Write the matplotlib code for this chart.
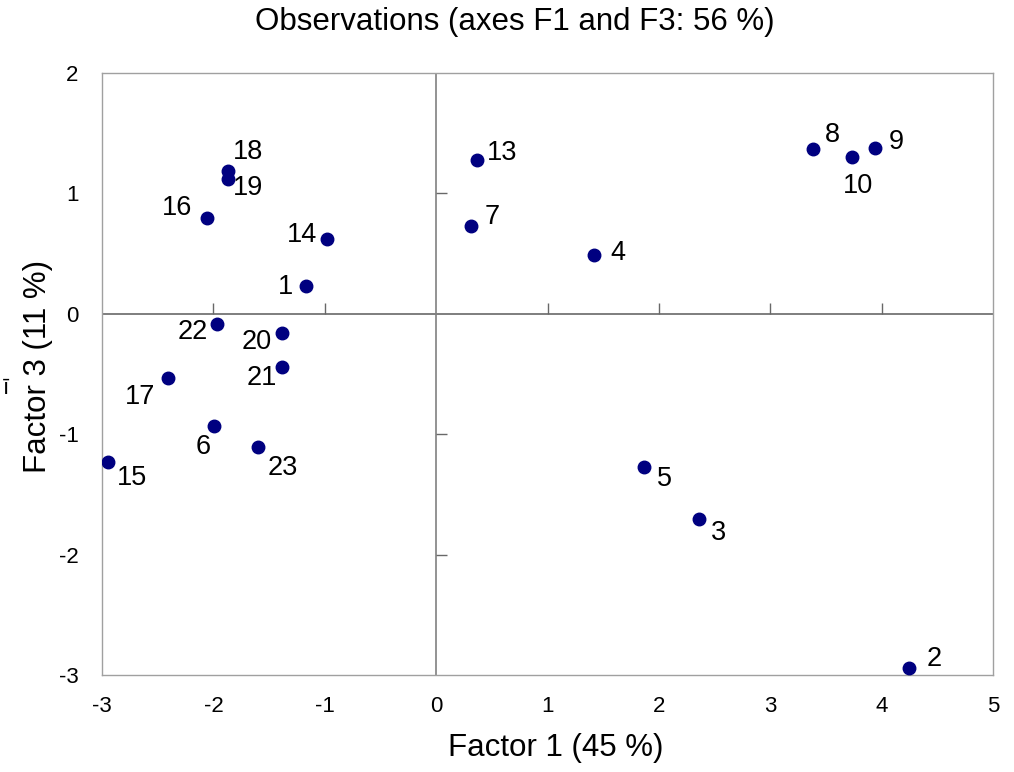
import matplotlib.pyplot as plt

plt.rcParams['font.family'] = ['Liberation Sans', 'DejaVu Sans']
plt.rcParams['axes.unicode_minus'] = False

# observation scores on F1 / F3
labels = ['1', '2', '3', '4', '5', '6', '7', '8', '9', '10', '13', '14',
          '15', '16', '17', '18', '19', '20', '21', '22', '23']
f1 = [-1.17, 4.25, 2.36, 1.42, 1.87, -1.99, 0.31, 3.38, 3.94, 3.73, 0.37, -0.98,
      -2.95, -2.06, -2.41, -1.87, -1.87, -1.38, -1.38, -1.97, -1.60]
f3 = [0.23, -2.94, -1.70, 0.49, -1.27, -0.93, 0.73, 1.37, 1.38, 1.30, 1.28, 0.62,
      -1.23, 0.80, -0.53, 1.19, 1.12, -0.16, -0.44, -0.085, -1.11]
# label offsets in pixels (dx, dy), screen y up
offsets = {'1': (-20, -1), '2': (25, 9), '3': (20, -14), '4': (24, 2), '5': (20, -12),
           '6': (-11, -21), '7': (22, 9), '8': (20, 14), '9': (21, 6), '10': (6, -29),
           '13': (25, 7), '14': (-25, 4), '15': (24, -16), '16': (-30, 10),
           '17': (-28, -19), '18': (20, 19), '19': (20, -9), '20': (-26, -9),
           '21': (-21, -11), '22': (-24, -8), '23': (25, -21)}

xticks = [-3, -2, -1, 0, 1, 2, 3, 4, 5]
yticks = [-3, -2, -1, 0, 1, 2]

fig = plt.figure(figsize=(10.14, 7.72), dpi=100)
ax = fig.add_axes([0.1006, 0.1256, 0.8787, 0.7798])

ax.set_xlim(-3, 5)
ax.set_ylim(-3, 2)
for sp in ax.spines.values():
    sp.set_color('#a0a0a0')
    sp.set_linewidth(1)

ax.axhline(0, color='#686868', lw=1.2, zorder=1)
ax.axvline(0, color='#808080', lw=1.2, zorder=1)

# tick marks sit on the zero lines
ax.plot([t for t in xticks if t not in (-3, 0, 5)], [0] * 6, ls='', marker=2,
        ms=8, mew=1, color='#686868', zorder=1)
ax.plot([0] * 3, [t for t in yticks if t not in (-3, 0, 2)], ls='', marker=1,
        ms=8, mew=1, color='#686868', zorder=1)

ax.set_xticks(xticks)
ax.set_yticks(yticks)
ax.tick_params(length=0, labelsize=16, pad=17)
ax.tick_params(axis='x', pad=15)

ax.plot(f1, f3, 'o', color='#000080', ms=9, ls='', zorder=3)
for lab, x, y in zip(labels, f1, f3):
    dx, dy = offsets[lab]
    ax.annotate(lab, (x, y), xytext=(dx * 0.72, dy * 0.72), textcoords='offset points',
                ha='center', va='center', fontsize=19.5)

fig.text(0.508, 1 - 22 / 772, 'Observations (axes F1 and F3: 56 %)',
         ha='center', va='center', fontsize=22.5)
fig.text(556 / 1014, 1 - 748 / 772, 'Factor 1 (45 %)', ha='center', va='center',
         fontsize=22.5)
fig.text(38 / 1014, 1 - 366 / 772, 'Factor 3 (11 %)', ha='center', va='center',
         rotation=90, fontsize=22.5)
fig.text(6 / 1014, 1 - 388 / 772, 'ī', ha='center', va='center', fontsize=16)

fig.savefig('out.png', dpi=100)
